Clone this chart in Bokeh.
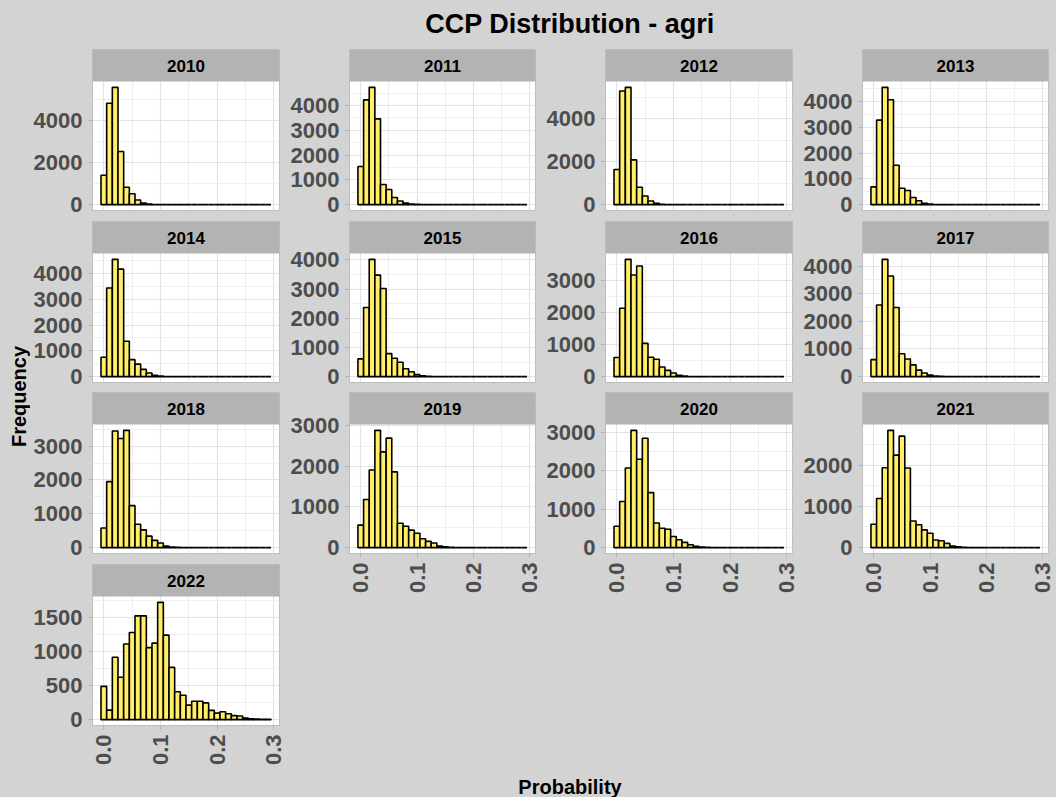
import math
from bokeh.plotting import figure
from bokeh.layouts import row, column
from bokeh.models import Range1d, LinearAxis, Grid, FixedTicker, PrintfTickFormatter
from bokeh.core.properties import value
from bokeh.embed import file_html
from bokeh.resources import INLINE

# ---------------- data ----------------
bin_centers = [0.00, 0.01, 0.02, 0.03, 0.04, 0.05, 0.06, 0.07, 0.08, 0.09,
               0.10, 0.11, 0.12, 0.13, 0.14, 0.15, 0.16, 0.17, 0.18, 0.19,
               0.20, 0.21, 0.22, 0.23, 0.24, 0.25, 0.26, 0.27, 0.28, 0.29]

counts_2010 = [1390, 4810, 5560, 2520, 825, 515, 220, 80, 25, 10, 5, 3, 2, 1, 1,
               0, 0, 0, 0, 0, 0, 0, 0, 0, 0, 0, 0, 0, 0, 0]
counts_2011 = [1540, 4225, 4730, 3460, 810, 610, 290, 145, 66, 25, 10, 5, 2, 1, 0,
               0, 0, 0, 0, 0, 0, 0, 0, 0, 0, 0, 0, 0, 0, 0]
counts_2012 = [1630, 5280, 5450, 2080, 810, 400, 170, 60, 20, 8, 3, 1, 0, 0, 0,
               0, 0, 0, 0, 0, 0, 0, 0, 0, 0, 0, 0, 0, 0, 0]
counts_2013 = [690, 3285, 4560, 4080, 1530, 640, 550, 280, 150, 50, 20, 8, 3, 1, 0,
               0, 0, 0, 0, 0, 0, 0, 0, 0, 0, 0, 0, 0, 0, 0]
counts_2014 = [750, 3440, 4550, 4170, 1375, 660, 485, 280, 140, 50, 20, 8, 3, 1, 0,
               0, 0, 0, 0, 0, 0, 0, 0, 0, 0, 0, 0, 0, 0, 0]
counts_2015 = [610, 2370, 4020, 3480, 3020, 790, 630, 495, 270, 170, 68, 25, 10, 4, 1,
               0, 0, 0, 0, 0, 0, 0, 0, 0, 0, 0, 0, 0, 0, 0]
counts_2016 = [600, 2140, 3670, 3180, 3460, 1040, 605, 545, 300, 195, 113, 41, 15, 5, 2,
               1, 0, 0, 0, 0, 0, 0, 0, 0, 0, 0, 0, 0, 0, 0]
counts_2017 = [615, 2590, 4240, 3640, 2500, 830, 640, 427, 237, 130, 59, 20, 8, 3, 1,
               0, 0, 0, 0, 0, 0, 0, 0, 0, 0, 0, 0, 0, 0, 0]
counts_2018 = [580, 1950, 3445, 3225, 3465, 1240, 690, 525, 340, 215, 136, 48, 20, 10, 5,
               2, 1, 0, 0, 0, 0, 0, 0, 0, 0, 0, 0, 0, 0, 0]
counts_2019 = [555, 1185, 1910, 2885, 2355, 2695, 1865, 600, 525, 430, 355, 220, 153, 113, 40,
               20, 10, 5, 2, 1, 0, 0, 0, 0, 0, 0, 0, 0, 0, 0]
counts_2020 = [555, 1200, 2070, 3050, 2300, 2845, 1430, 640, 505, 478, 290, 205, 136, 77, 34,
               15, 6, 3, 1, 0, 0, 0, 0, 0, 0, 0, 0, 0, 0, 0]
counts_2021 = [565, 1190, 1935, 2840, 2240, 2700, 1930, 645, 555, 430, 350, 185, 168, 103, 40,
               20, 10, 4, 2, 1, 0, 0, 0, 0, 0, 0, 0, 0, 0, 0]
counts_2022 = [486, 139, 913, 620, 1106, 1274, 1519, 1519, 1053, 1120, 1716, 1236, 764, 409, 356,
               212, 269, 269, 245, 135, 96, 115, 87, 58, 53, 24, 14, 10, 6, 5]

years = ["2010", "2011", "2012", "2013", "2014", "2015", "2016",
         "2017", "2018", "2019", "2020", "2021", "2022"]
all_counts = [counts_2010, counts_2011, counts_2012, counts_2013, counts_2014,
              counts_2015, counts_2016, counts_2017, counts_2018, counts_2019,
              counts_2020, counts_2021, counts_2022]

yticks_2010 = [0, 2000, 4000]
yticks_2011 = [0, 1000, 2000, 3000, 4000]
yticks_2012 = [0, 2000, 4000]
yticks_2013 = [0, 1000, 2000, 3000, 4000]
yticks_2014 = [0, 1000, 2000, 3000, 4000]
yticks_2015 = [0, 1000, 2000, 3000, 4000]
yticks_2016 = [0, 1000, 2000, 3000]
yticks_2017 = [0, 1000, 2000, 3000, 4000]
yticks_2018 = [0, 1000, 2000, 3000]
yticks_2019 = [0, 1000, 2000, 3000]
yticks_2020 = [0, 1000, 2000, 3000]
yticks_2021 = [0, 1000, 2000]
yticks_2022 = [0, 500, 1000, 1500]
all_yticks = [yticks_2010, yticks_2011, yticks_2012, yticks_2013, yticks_2014,
              yticks_2015, yticks_2016, yticks_2017, yticks_2018, yticks_2019,
              yticks_2020, yticks_2021, yticks_2022]

x_breaks = [0.0, 0.1, 0.2, 0.3]
x_minor = [0.05, 0.15, 0.25]

title_text = "CCP Distribution - agri"
x_title = "Probability"
y_title = "Frequency"

# ---------------- style ----------------
BG = "#D3D3D3"
STRIP = "#B3B3B3"
BORDER = "#BDBDBD"
GRID_MAJ = "#E3E3E3"
GRID_MIN = "#EFEFEF"
FILL = "#FFEE66"
TICK_COL = "#4D4D4D"
FONT = "Liberation Sans"
TICK_SIZE = "22px"
XMIN, XMAX = -0.02, 0.31
STRIP_H = 32
PANEL_H = 129

col_widths = [257, 256, 257, 256]
col_left = [61, 60, 61, 61]
col_right = 8
LAYOUT_STYLE = {"background-color": BG}


def bare_fig(w, h, bg):
    f = figure(width=w, height=h, x_range=Range1d(0, w), y_range=Range1d(0, h),
               x_axis_type=None, y_axis_type=None, output_backend="svg",
               toolbar_location=None, min_border=0,
               background_fill_color=bg, border_fill_color=BG,
               outline_line_color=None)
    return f


def make_panel(idx, ci, bottom, show_x):
    counts = all_counts[idx]
    yt = all_yticks[idx]
    m = max(counts)
    ylo, yhi = -0.05 * m, 1.05 * m
    per_px = (yhi - ylo) / PANEL_H
    ytop = yhi + STRIP_H * per_px
    p = figure(width=col_widths[ci], height=STRIP_H + PANEL_H + bottom,
               x_range=Range1d(XMIN, XMAX), y_range=Range1d(ylo, ytop),
               x_axis_type=None, y_axis_type=None, output_backend="svg",
               toolbar_location=None, min_border=0, min_border_left=col_left[ci],
               min_border_right=col_right, min_border_top=0, min_border_bottom=bottom,
               background_fill_color="white", border_fill_color=BG,
               outline_line_color=BORDER, outline_line_width=1)
    step = yt[1] - yt[0]
    yminor = [t + step / 2 for t in yt]
    p.add_layout(Grid(dimension=0, ticker=FixedTicker(ticks=x_breaks, minor_ticks=x_minor),
                      grid_line_color=GRID_MAJ, grid_line_width=1.2,
                      minor_grid_line_color=GRID_MIN, minor_grid_line_width=1))
    p.add_layout(Grid(dimension=1, ticker=FixedTicker(ticks=yt, minor_ticks=yminor),
                      grid_line_color=GRID_MAJ, grid_line_width=1.2,
                      minor_grid_line_color=GRID_MIN, minor_grid_line_width=1))
    ya = LinearAxis(ticker=FixedTicker(ticks=yt), axis_line_color=None,
                    major_tick_line_color=STRIP, major_tick_in=0, major_tick_out=4,
                    minor_tick_line_color=None, major_label_standoff=6,
                    major_label_text_font=FONT, major_label_text_font_style="bold",
                    major_label_text_font_size=TICK_SIZE, major_label_text_color=TICK_COL)
    p.add_layout(ya, "left")
    if show_x:
        xa = LinearAxis(ticker=FixedTicker(ticks=x_breaks),
                        formatter=PrintfTickFormatter(format="%.1f"),
                        axis_line_color=None, major_tick_line_color=STRIP,
                        major_tick_in=0, major_tick_out=4, minor_tick_line_color=None,
                        major_label_standoff=5, major_label_orientation=math.pi / 2,
                        major_label_text_font=FONT, major_label_text_font_style="bold",
                        major_label_text_font_size=TICK_SIZE,
                        major_label_text_color=TICK_COL)
        p.add_layout(xa, "below")
    p.vbar(x=bin_centers, width=0.01, top=counts, bottom=0, fill_color=FILL,
           line_color="black", line_width=1.6)
    # facet strip (drawn in the frame above the panel area)
    p.quad(left=[XMIN], right=[XMAX], bottom=[yhi], top=[ytop], fill_color=STRIP,
           line_color=None)
    p.text(x=[(XMIN + XMAX) / 2], y=[(yhi + ytop) / 2], text=[years[idx]],
           text_font=value(FONT), text_font_style="bold", text_font_size="17px",
           text_color="black", text_align="center", text_baseline="middle")
    return p


col1 = column(
    make_panel(0, 0, 11, False),
    make_panel(4, 0, 10, False),
    make_panel(8, 0, 11, False),
    make_panel(12, 0, 72, True),
    styles=LAYOUT_STYLE,
)

other_cols = []
for ci in (1, 2, 3):
    other_cols.append(column(
        make_panel(ci, ci, 11, False),
        make_panel(ci + 4, ci, 10, False),
        make_panel(ci + 8, ci, 60, True),
        styles=LAYOUT_STYLE,
    ))

xlab = bare_fig(769, 184, BG)
xlab.text(x=[282.5], y=[11], text=[x_title], text_font=value(FONT), text_font_style="bold",
          text_font_size="20px", text_color="black", text_align="center",
          text_baseline="middle")

right_block = column(row(*other_cols, styles=LAYOUT_STYLE), xlab, styles=LAYOUT_STYLE)

ylab = bare_fig(30, 748, BG)
ylab.text(x=[18], y=[401], text=[y_title], angle=math.pi / 2, text_font=value(FONT),
          text_font_style="bold", text_font_size="20px", text_color="black",
          text_align="center", text_baseline="middle")

title_fig = bare_fig(1056, 49, BG)
title_fig.text(x=[569.5], y=[26], text=[title_text], text_font=value(FONT),
               text_font_style="bold", text_font_size="27px", text_color="black",
               text_align="center", text_baseline="middle")

p = column(title_fig, row(ylab, col1, right_block, styles=LAYOUT_STYLE), styles=LAYOUT_STYLE)

open("out.html", "w").write(file_html(p, INLINE))
